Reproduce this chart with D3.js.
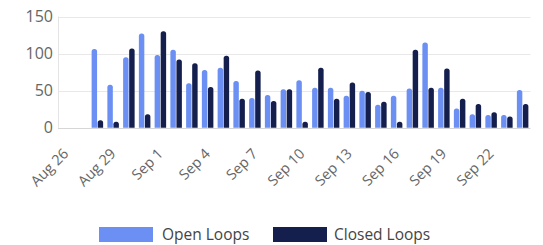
<!DOCTYPE html>
<html>
<head>
<meta charset="utf-8">
<script src="https://cdn.jsdelivr.net/npm/d3@7"></script>
<style>
  body { margin: 0; background: #fff; }
  svg { display: block; font-family: "Open Sans", "DejaVu Sans", sans-serif; }
</style>
</head>
<body>
<div id="chart"></div>
<script>
// daily counts, Aug 28 - Sep 24
var days = ['2023-08-28','2023-08-29','2023-08-30','2023-08-31','2023-09-01','2023-09-02','2023-09-03',
            '2023-09-04','2023-09-05','2023-09-06','2023-09-07','2023-09-08','2023-09-09','2023-09-10',
            '2023-09-11','2023-09-12','2023-09-13','2023-09-14','2023-09-15','2023-09-16','2023-09-17',
            '2023-09-18','2023-09-19','2023-09-20','2023-09-21','2023-09-22','2023-09-23','2023-09-24'];
var openLoops   = [106, 58, 95, 127, 98, 105, 60, 78, 81, 63, 40, 44, 52, 64, 54, 54, 43, 50, 31, 43, 53, 115, 54, 26, 18, 17, 17, 51];
var closedLoops = [10, 8, 107, 18, 130, 92, 87, 55, 97, 39, 77, 36, 52, 8, 81, 39, 61, 48, 35, 8, 105, 54, 80, 39, 32, 21, 15, 32];
var yTicks = [0, 50, 100, 150];
var seriesNames = ['Open Loops', 'Closed Loops'];
var colors = ['#6b8ff2', '#141f4d'];

var width = 543, height = 245;
var parse = d3.timeParse('%Y-%m-%d');
var dates = days.map(parse);

var x = d3.scaleTime()
    .domain([new Date(2023, 7, 25, 12), new Date(2023, 8, 24, 12)])
    .range([58, 530.5]);
var y = d3.scaleLinear().domain([0, 150]).range([127.7, 16.5]);

var svg = d3.select('#chart').append('svg')
    .attr('width', width)
    .attr('height', height);

// grid
svg.append('g').selectAll('line')
    .data(yTicks)
    .enter().append('line')
    .attr('x1', 58).attr('x2', 530.5)
    .attr('y1', d => Math.round(y(d)) + 0.5).attr('y2', d => Math.round(y(d)) + 0.5)
    .attr('stroke', d => d == 0 ? '#d6d6d6' : '#e8e8e8')
    .attr('stroke-width', 1);

svg.append('line')
    .attr('x1', 58.5).attr('x2', 58.5)
    .attr('y1', y(150)).attr('y2', y(0))
    .attr('stroke', '#e4e4e4');

// y labels
svg.append('g').selectAll('text')
    .data(yTicks)
    .enter().append('text')
    .attr('x', 53)
    .attr('y', d => y(d))
    .attr('dy', '0.36em')
    .attr('text-anchor', 'end')
    .attr('font-size', 16)
    .attr('fill', '#666')
    .text(d => d);

// x labels every 3 days
var xTicks = d3.timeDay.range(new Date(2023, 7, 26), new Date(2023, 8, 25), 3);
var fmt = d3.timeFormat('%b %-d');
svg.append('g').selectAll('text')
    .data(xTicks)
    .enter().append('text')
    .attr('transform', d => 'translate(' + x(d) + ',151) rotate(-45)')
    .attr('dy', '0.35em')
    .attr('text-anchor', 'end')
    .attr('font-size', 14.5)
    .attr('fill', '#666')
    .text(fmt);

// rounded-top bar path
function barPath(x0, w, yTop, yBase) {
    var r = Math.min(2.5, w / 2, (yBase - yTop) / 2);
    return 'M' + x0 + ',' + yBase +
        'V' + (yTop + r) +
        'Q' + x0 + ',' + yTop + ' ' + (x0 + r) + ',' + yTop +
        'H' + (x0 + w - r) +
        'Q' + (x0 + w) + ',' + yTop + ' ' + (x0 + w) + ',' + (yTop + r) +
        'V' + yBase + 'Z';
}

var inner = d3.scaleBand().domain([0, 1]).range([-5.75, 5.75]).paddingInner(0.1);

[openLoops, closedLoops].forEach(function (vals, s) {
    svg.append('g').selectAll('path')
        .data(vals)
        .enter().append('path')
        .attr('fill', colors[s])
        .attr('d', (v, i) => barPath(x(dates[i]) + inner(s), inner.bandwidth(), y(v), y(0)));
});

// legend
var legend = [{x: 99, w: 54, tx: 162}, {x: 273, w: 54, tx: 334}];
legend.forEach(function (l, s) {
    svg.append('rect')
        .attr('x', l.x).attr('y', 227)
        .attr('width', l.w).attr('height', 15)
        .attr('fill', colors[s]);
    svg.append('text')
        .attr('x', l.tx).attr('y', 234.5)
        .attr('dy', '0.35em')
        .attr('font-size', 15.5)
        .attr('fill', '#444')
        .text(seriesNames[s]);
});
</script>
</body>
</html>
